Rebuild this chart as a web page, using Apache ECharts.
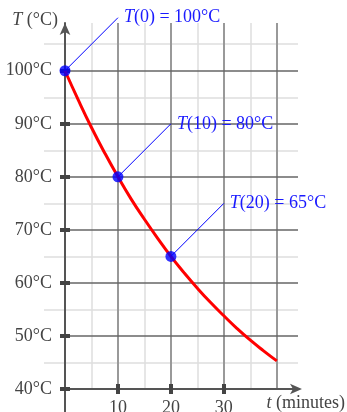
<!DOCTYPE html>
<html>
<head>
<meta charset="utf-8">
<script src="https://cdn.jsdelivr.net/npm/echarts@6/dist/echarts.min.js"></script>
<style>
  html, body { margin: 0; padding: 0; background: #fff; }
  #chart { width: 347px; height: 412px; }
</style>
</head>
<body>
<div id="chart"></div>
<script>
// Cooling curve: temperature (°C) against time (minutes)
const minutes = [0, 2.5, 5, 7.5, 10, 12.5, 15, 17.5, 20, 22.5, 25, 27.5, 30, 32.5, 35, 37.5, 40];
const temps   = [100, 94.5, 89.3, 84.5, 80, 75.8, 72.0, 68.4, 65, 61.9, 59.0, 56.3, 53.8, 51.4, 49.2, 47.2, 45.3];

// Measured points that get a callout
const markedMinutes = [0, 10, 20];
const markedTemps   = [100, 80, 65];

// Tick and grid positions
const tempTicks       = [40, 50, 60, 70, 80, 90, 100];
const tempMinorTicks  = [45, 55, 65, 75, 85, 95, 105];
const minuteTicks     = [10, 20, 30];
const minuteGrid      = [10, 20, 30, 40];
const minuteMinorGrid = [5, 15, 25, 35];

const FONT = 'Liberation Serif';
const FS = 18;
const INK = '#444';
const AXIS = '#555';
const BLUE = '#0000ff';
const T_MIN = 40, T_MAX = 109, M_MIN = 0, M_MAX = 44;
const CALLOUT = 10; // callout leader runs up-right by this much on both axes

const plot = { left: 65, right: 49, top: 23, bottom: 23 };

function xAx(grid, extra) {
  return Object.assign({
    type: 'value', gridIndex: grid, min: M_MIN, max: M_MAX, position: 'bottom',
    axisLine: { show: false, onZero: false }, axisTick: { show: false },
    axisLabel: { show: false }, splitLine: { show: false }
  }, extra);
}
function yAx(grid, extra) {
  return Object.assign({
    type: 'value', gridIndex: grid, min: T_MIN, max: T_MAX, position: 'left',
    axisLine: { show: false, onZero: false }, axisTick: { show: false },
    axisLabel: { show: false }, splitLine: { show: false }
  }, extra);
}

const tickStyle = { color: INK, width: 4 };
const italic = { fontStyle: 'italic', fontFamily: FONT, fontSize: FS, color: INK };

const option = {
  animation: false,
  backgroundColor: '#fff',
  grid: [
    { left: plot.left, right: plot.right, top: plot.top, bottom: plot.bottom, outerBoundsMode: 'none' },
    { left: 44, right: plot.right, top: plot.top, bottom: plot.bottom, outerBoundsMode: 'none' },
    { left: plot.left, width: 10, height: plot.bottom, bottom: 0, outerBoundsMode: 'none' }
  ],
  xAxis: [
    xAx(0, {
      z: 4,
      axisLine: { show: true, onZero: false, symbol: ['none', 'arrow'], symbolSize: [8, 12],
        symbolOffset: [0, 4], lineStyle: { color: AXIS, width: 2 } },
      axisTick: { show: true, customValues: minuteTicks, length: 5, lineStyle: tickStyle },
      axisLabel: { show: true, customValues: minuteTicks, margin: 10,
        fontFamily: FONT, fontSize: FS, color: INK },
      name: '{it|t} (minutes)',
      nameLocation: 'end',
      nameGap: 47,
      nameTextStyle: { align: 'right', verticalAlign: 'top', padding: [5, 0, 0, 0],
        fontFamily: FONT, fontSize: FS, color: INK, rich: { it: italic } }
    }),
    xAx(0, { z: 4, axisTick: { show: true, inside: true, customValues: minuteTicks, length: 5, lineStyle: tickStyle } }),
    xAx(0, { z: 2, axisTick: { show: false, customValues: minuteGrid },
      splitLine: { show: true, lineStyle: { color: '#999', width: 2 } } }),
    xAx(0, { z: 1, axisTick: { show: false, customValues: minuteMinorGrid },
      splitLine: { show: true, lineStyle: { color: '#dedede', width: 1.5 } } }),
    xAx(1, { show: false }),
    xAx(2, { show: false })
  ],
  yAxis: [
    yAx(0, {
      z: 4,
      axisLine: { show: true, onZero: false, symbol: ['none', 'arrow'], symbolSize: [8, 12],
        lineStyle: { color: AXIS, width: 2 } },
      axisTick: { show: true, customValues: tempTicks, length: 5, lineStyle: tickStyle },
      axisLabel: { show: true, customValues: tempTicks, margin: 13, formatter: '{value}°C',
        fontFamily: FONT, fontSize: FS, color: INK },
      splitLine: { show: true, lineStyle: { color: '#666', width: 1.5 } },
      name: '{it|T} (°C)',
      nameLocation: 'end',
      nameGap: 3,
      nameTextStyle: { align: 'right', verticalAlign: 'middle', padding: [0, 7, 0, 0],
        fontFamily: FONT, fontSize: FS, color: INK, rich: { it: italic } }
    }),
    yAx(0, { z: 4, axisTick: { show: true, inside: true, customValues: tempTicks, length: 5, lineStyle: tickStyle } }),
    yAx(1, { z: 1, axisTick: { show: false, customValues: tempMinorTicks },
      splitLine: { show: true, lineStyle: { color: '#dedede', width: 1.5 } } }),
    yAx(2, { min: 0, max: 1, z: 4, axisLine: { show: true, onZero: false, lineStyle: { color: AXIS, width: 2 } } })
  ],
  series: []
};

// Cooling curve
option.series.push({
  type: 'line', xAxisIndex: 0, yAxisIndex: 0, z: 5,
  data: minutes.map((m, i) => [m, temps[i]]),
  smooth: true, showSymbol: false, silent: true,
  lineStyle: { color: '#ff0000', width: 3 }
});

// Callout leaders with their labels
const calloutInk = '#1a1aff';
markedMinutes.forEach((m, i) => {
  const v = markedTemps[i];
  option.series.push({
    type: 'line', xAxisIndex: 0, yAxisIndex: 0, z: 6, clip: false,
    data: [[m, v], [m + CALLOUT, v + CALLOUT]],
    showSymbol: false, silent: true,
    lineStyle: { color: BLUE, width: 1 },
    endLabel: {
      show: true, distance: 6,
      formatter: () => '{it|T}(' + m + ') = ' + v + '°C',
      fontFamily: FONT, fontSize: FS, color: calloutInk,
      rich: { it: Object.assign({}, italic, { color: calloutInk }) }
    }
  });
});

// Marked points
option.series.push({
  type: 'scatter', xAxisIndex: 0, yAxisIndex: 0, z: 7,
  data: markedMinutes.map((m, i) => [m, markedTemps[i]]),
  symbolSize: 11, itemStyle: { color: BLUE }, silent: true
});

const chart = echarts.init(document.getElementById('chart'), null, { renderer: 'canvas' });
chart.setOption(option);
</script>
</body>
</html>
